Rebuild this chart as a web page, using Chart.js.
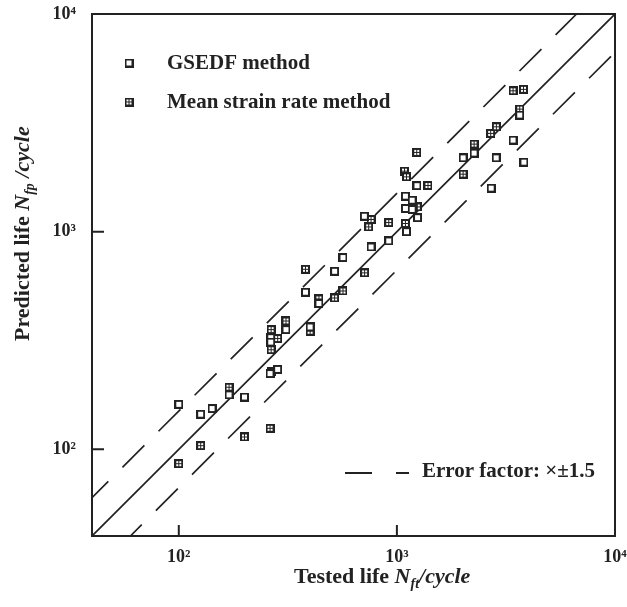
<!DOCTYPE html>
<html><head><meta charset="utf-8">
<script src="https://cdn.jsdelivr.net/npm/chart.js@4/dist/chart.umd.min.js"></script>
<style>html,body{margin:0;padding:0;background:#fff}#wrap{width:627px;height:607px;position:relative}</style>
</head><body><div id="wrap"><canvas id="c" width="627" height="607"></canvas></div>
<script>
// ---- data ----
const gsedfTested    = [100,126,142,170,200,262,284,264,264,310,400,439,381,518,566,709,761,917,1106,1094,1175,1094,1175,1243,1236,2012,2259,2852,2705,3407,3823,3657];
const gsedfPredicted = [161,145,154,178,174,223,233,326,311,355,365,468,527,658,761,1178,851,907,1000,1456,1395,1278,1265,1160,1627,2184,2296,2184,1585,2634,2087,3432];
const meanTested     = [100,126,170,200,262,267,265,284,265,310,400,439,518,566,381,711,761,742,917,1094,1083,1106,1233,1388,1240,2012,2259,2691,2858,3407,3804,3657];
const meanPredicted  = [86,104,193,114,125,227,287,323,355,389,349,491,496,534,672,647,1138,1052,1102,1091,1897,1786,2313,1630,1300,1838,2525,2828,3033,4440,4506,3657];
const axisMin = 40, axisMax = 10000;
const tickValues = [100, 1000, 10000];
const tickLabels = ['10²', '10³', '10⁴'];
const errorFactor = 1.5;
const seriesNames = ['GSEDF method', 'Mean strain rate method'];

const INK = '#222';
const SERIF = '"Liberation Serif", "Times New Roman", serif';

function makeOpen() {
  const c = document.createElement('canvas'); c.width = 9; c.height = 9;
  const g = c.getContext('2d');
  g.fillStyle = INK; g.fillRect(0, 0, 9, 9);
  g.fillStyle = '#fff'; g.fillRect(2, 2, 5, 5);
  return c;
}
function makeGrid() {
  const c = document.createElement('canvas'); c.width = 9; c.height = 9;
  const g = c.getContext('2d');
  g.fillStyle = INK; g.fillRect(0, 0, 9, 9);
  g.fillStyle = '#fff';
  g.fillRect(2, 2, 2, 2); g.fillRect(5, 2, 2, 2); g.fillRect(2, 5, 2, 2); g.fillRect(5, 5, 2, 2);
  return c;
}
const openImg = makeOpen(), gridImg = makeGrid();

const zip = (xs, ys) => xs.map((x, i) => ({x, y: ys[i]}));

function drawRuns(ctx, runs, x, y) {
  for (const r of runs) {
    ctx.font = r.font;
    ctx.fillText(r.t, x, y + (r.dy || 0));
    x += ctx.measureText(r.t).width;
  }
}
function noPad(s) { s.paddingTop = 0; s.paddingBottom = 0; s.paddingLeft = 0; s.paddingRight = 0; }

const decor = {
  id: 'decor',
  afterDraw(chart) {
    const ctx = chart.ctx, a = chart.chartArea;
    const xs = chart.scales.x, ys = chart.scales.y;
    ctx.save();
    ctx.strokeStyle = INK; ctx.fillStyle = INK;
    // frame
    ctx.lineWidth = 2;
    ctx.strokeRect(a.left, a.top, a.right - a.left, a.bottom - a.top);
    // inward ticks
    ctx.beginPath();
    tickValues.forEach(v => {
      const px = xs.getPixelForValue(v);
      ctx.moveTo(px, a.bottom); ctx.lineTo(px, a.bottom - 11);
      const py = ys.getPixelForValue(v);
      ctx.moveTo(a.left, py); ctx.lineTo(a.left + 12, py);
    });
    ctx.stroke();
    // legend (top-left)
    ctx.textBaseline = 'alphabetic'; ctx.textAlign = 'left';
    ctx.drawImage(openImg, 129 - 4.5, 63 - 4.5);
    ctx.drawImage(gridImg, 129 - 4.5, 102 - 4.5);
    ctx.font = 'bold 21px ' + SERIF;
    ctx.fillText(seriesNames[0], 167, 69);
    ctx.fillText(seriesNames[1], 167, 108);
    // error-factor legend (bottom-right)
    ctx.lineWidth = 2;
    ctx.beginPath();
    ctx.moveTo(345, 473); ctx.lineTo(372, 473);
    ctx.moveTo(396, 473); ctx.lineTo(409, 473);
    ctx.stroke();
    ctx.font = 'bold 21px ' + SERIF;
    ctx.fillText('Error factor: ×±' + errorFactor, 422, 477);
    // x title
    const B = 'bold 22px ' + SERIF, BI = 'italic bold 22px ' + SERIF, SUB = 'italic bold 14px ' + SERIF;
    drawRuns(ctx, [
      {t: 'Tested life ', font: B},
      {t: 'N', font: BI},
      {t: 'ft', font: SUB, dy: 5},
      {t: '/cycle', font: BI}
    ], 294, 583);
    // y title
    ctx.translate(29, 341);
    ctx.rotate(-Math.PI / 2);
    drawRuns(ctx, [
      {t: 'Predicted life ', font: B},
      {t: 'N', font: BI},
      {t: 'fp', font: SUB, dy: 5},
      {t: ' /cycle', font: BI}
    ], 0, 0);
    ctx.restore();
  }
};

new Chart(document.getElementById('c'), {
  type: 'scatter',
  data: {
    datasets: [
      {label: seriesNames[0], data: zip(gsedfTested, gsedfPredicted), pointStyle: openImg, pointRadius: 5, order: 1},
      {label: seriesNames[1], data: zip(meanTested, meanPredicted), pointStyle: gridImg, pointRadius: 5, order: 1},
      {type: 'line', label: 'y=x', data: [{x: axisMin, y: axisMin}, {x: axisMax, y: axisMax}],
       borderColor: INK, borderWidth: 1.7, pointRadius: 0, order: 3},
      {type: 'line', label: 'upper', data: [{x: axisMin, y: axisMin * errorFactor}, {x: axisMax / errorFactor, y: axisMax}],
       borderColor: INK, borderWidth: 1.7, borderDash: [31, 20], borderDashOffset: 8, pointRadius: 0, order: 3},
      {type: 'line', label: 'lower', data: [{x: axisMin * errorFactor, y: axisMin}, {x: axisMax, y: axisMax / errorFactor}],
       borderColor: INK, borderWidth: 1.7, borderDash: [31, 20], borderDashOffset: 15, pointRadius: 0, order: 3}
    ]
  },
  options: {
    responsive: false,
    animation: false,
    layout: {padding: {left: 0, top: 14, right: 12, bottom: 0}},
    plugins: {legend: {display: false}, tooltip: {enabled: false}},
    scales: {
      x: {
        type: 'logarithmic', min: axisMin, max: axisMax,
        afterBuildTicks: s => { s.ticks = tickValues.map(v => ({value: v})); },
        afterFit: s => { s.height = 71; noPad(s); },
        ticks: {
          callback: v => { const i = tickValues.indexOf(v); return i >= 0 ? tickLabels[i] : ''; },
          font: {family: SERIF, size: 18, weight: 'bold'}, color: INK,
          padding: 11, maxRotation: 0, autoSkip: false
        },
        grid: {display: false, drawTicks: false},
        border: {display: false}
      },
      y: {
        type: 'logarithmic', min: axisMin, max: axisMax,
        afterBuildTicks: s => { s.ticks = tickValues.map(v => ({value: v})); },
        afterFit: s => { s.width = 92; noPad(s); },
        ticks: {
          callback: v => { const i = tickValues.indexOf(v); return i >= 0 ? tickLabels[i] : ''; },
          font: {family: SERIF, size: 18, weight: 'bold'}, color: INK,
          padding: 16, autoSkip: false
        },
        grid: {display: false, drawTicks: false},
        border: {display: false}
      }
    }
  },
  plugins: [decor]
});
</script>
</body></html>
